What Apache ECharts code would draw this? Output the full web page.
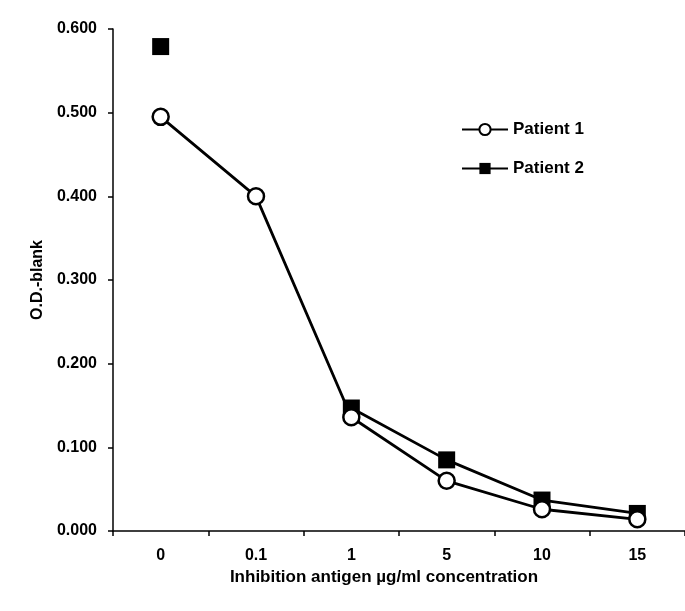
<!DOCTYPE html>
<html>
<head>
<meta charset="utf-8">
<script src="https://cdn.jsdelivr.net/npm/echarts@6/dist/echarts.min.js"></script>
<style>html,body{margin:0;padding:0;background:#fff}#c{width:685px;height:611px}</style>
</head>
<body>
<div id="c"></div>
<script>
const categories = ['0', '0.1', '1', '5', '10', '15'];
const patient1 = [0.495, 0.400, 0.136, 0.060, 0.026, 0.014];
const patient2 = [0.579, null, 0.147, 0.085, 0.037, 0.021];
const yTicks = { min: 0, max: 0.6, interval: 0.1 };

const font = 'Liberation Sans, Arial, sans-serif';
const chart = echarts.init(document.getElementById('c'), null, { renderer: 'canvas' });
chart.setOption({
  animation: false,
  backgroundColor: '#fff',
  grid: { left: 113, right: -4, top: 29, bottom: 80 },
  legend: {
    orient: 'vertical',
    left: 456,
    top: 116,
    itemGap: 22,
    itemWidth: 46,
    itemHeight: 14,
    textStyle: { fontFamily: font, fontWeight: 'bold', fontSize: 17, color: '#000' },
    data: ['Patient 1', 'Patient 2']
  },
  xAxis: {
    type: 'category',
    data: categories,
    boundaryGap: true,
    name: 'Inhibition antigen µg/ml concentration',
    nameLocation: 'middle',
    nameGap: 36,
    nameTextStyle: { fontFamily: font, fontWeight: 'bold', fontSize: 17, color: '#000', padding: [0, 0, 0, -30] },
    axisLine: { lineStyle: { color: '#000', width: 1.5 } },
    axisTick: { show: true, length: 5, lineStyle: { color: '#000', width: 1.5 } },
    axisLabel: { fontFamily: font, fontWeight: 'bold', fontSize: 16, color: '#000', margin: 17 },
    splitLine: { show: false }
  },
  yAxis: {
    type: 'value',
    min: yTicks.min,
    max: yTicks.max,
    interval: yTicks.interval,
    name: 'O.D.-blank',
    nameLocation: 'middle',
    nameGap: 59,
    nameTextStyle: { fontFamily: font, fontWeight: 'bold', fontSize: 16, color: '#000' },
    axisLine: { show: true, lineStyle: { color: '#000', width: 1.5 } },
    axisTick: { show: true, length: 5, lineStyle: { color: '#000', width: 1.5 } },
    axisLabel: { fontFamily: font, fontWeight: 'bold', fontSize: 16, color: '#000', margin: 16, formatter: v => v.toFixed(3) },
    splitLine: { show: false }
  },
  series: [
    {
      name: 'Patient 1',
      type: 'line',
      data: patient1,
      symbol: 'circle',
      symbolSize: 16,
      z: 3,
      lineStyle: { color: '#000', width: 2.8 },
      itemStyle: { color: '#fff', borderColor: '#000', borderWidth: 2.5 }
    },
    {
      name: 'Patient 2',
      type: 'line',
      data: patient2,
      connectNulls: false,
      symbol: 'rect',
      symbolSize: 17,
      z: 2,
      lineStyle: { color: '#000', width: 2.8 },
      itemStyle: { color: '#000', borderColor: '#000', borderWidth: 0 }
    }
  ]
});
</script>
</body>
</html>
